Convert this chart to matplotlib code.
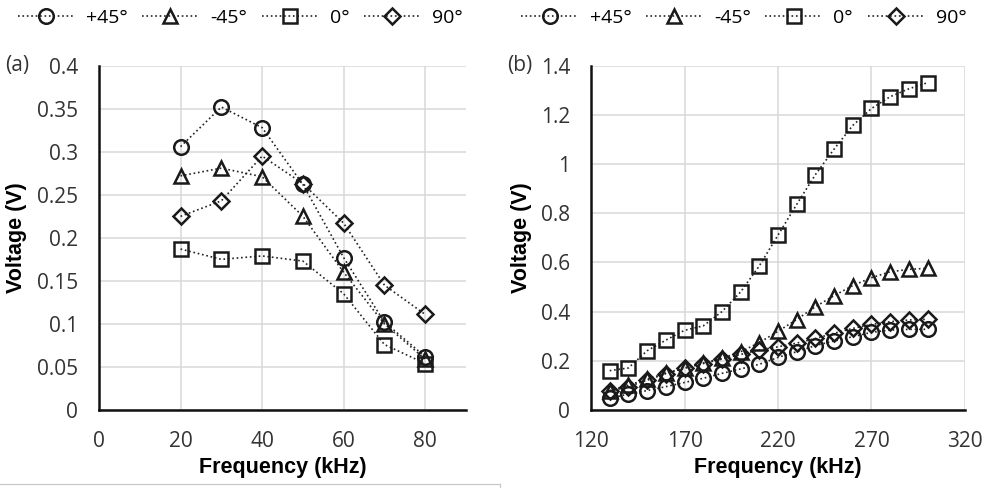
import matplotlib
matplotlib.use('Agg')
import matplotlib.pyplot as plt
from matplotlib.lines import Line2D

# (a) low frequency sweep
freq_a = [20, 30, 40, 50, 60, 70, 80]
p45_a = [0.306, 0.352, 0.328, 0.262, 0.177, 0.102, 0.062]
m45_a = [0.272, 0.281, 0.271, 0.225, 0.160, 0.100, 0.059]
deg0_a = [0.187, 0.175, 0.179, 0.173, 0.135, 0.076, 0.054]
deg90_a = [0.225, 0.243, 0.295, 0.263, 0.217, 0.145, 0.111]

# (b) high frequency sweep
freq_b = [130, 140, 150, 160, 170, 180, 190, 200, 210,
          220, 230, 240, 250, 260, 270, 280, 290, 300]
p45_b = [0.047, 0.065, 0.079, 0.095, 0.112, 0.129, 0.149, 0.167, 0.186,
         0.214, 0.237, 0.262, 0.281, 0.298, 0.316, 0.325, 0.328, 0.328]
m45_b = [0.079, 0.101, 0.125, 0.150, 0.171, 0.191, 0.210, 0.237, 0.274,
         0.320, 0.368, 0.420, 0.465, 0.506, 0.538, 0.562, 0.572, 0.576]
deg0_b = [0.160, 0.171, 0.241, 0.284, 0.324, 0.342, 0.400, 0.480, 0.586,
          0.711, 0.836, 0.957, 1.061, 1.157, 1.226, 1.274, 1.306, 1.331]
deg90_b = [0.076, 0.095, 0.121, 0.148, 0.170, 0.189, 0.207, 0.226, 0.244,
           0.257, 0.272, 0.291, 0.312, 0.332, 0.348, 0.359, 0.366, 0.369]

labels = ['+45°', '-45°', '0°', '90°']
markers = [('o', 10.5), ('^', 10.5), ('s', 10.5), ('D', 7.8)]

TICK_FONT = 'Open Sans'
LABEL_FONT = 'Liberation Sans'

fig = plt.figure(figsize=(9.88, 4.88), dpi=100)
ax_a = fig.add_axes([0.1002, 0.1598, 0.3715, 0.7056])
ax_b = fig.add_axes([0.5982, 0.1598, 0.3785, 0.7056])


def draw(ax, x, series):
    handles = []
    for y, (m, ms), lab in zip(series, markers, labels):
        h, = ax.plot(x, y, linestyle=':', color='#222222', linewidth=1.2,
                     marker=m, markersize=ms, markerfacecolor='none',
                     markeredgecolor='#1a1a1a', markeredgewidth=1.8,
                     label=lab, zorder=3)
        handles.append(h)
    return handles


def style(ax, xlim, xticks, ylim, yticks, yfmt):
    ax.set_xlim(*xlim)
    ax.set_ylim(*ylim)
    ax.set_xticks(xticks)
    ax.set_yticks(yticks)
    ax.set_yticklabels([yfmt(v) for v in yticks], fontfamily=TICK_FONT, fontsize=15, color='#333333')
    ax.set_xticklabels([str(v) for v in xticks], fontfamily=TICK_FONT, fontsize=15, color='#333333')
    ax.tick_params(length=0)
    ax.tick_params(axis='y', pad=15)
    ax.tick_params(axis='x', pad=15)
    ax.grid(True, color='#d9d9d9', linewidth=1.1, zorder=0)
    ax.set_axisbelow(True)
    for s in ['top', 'right']:
        ax.spines[s].set_visible(False)
    for s in ['left', 'bottom']:
        ax.spines[s].set_linewidth(1.8)
        ax.spines[s].set_color('#111111')
    ax.set_xlabel('Frequency (kHz)', fontfamily=LABEL_FONT, fontweight='bold', fontsize=15.5)
    ax.set_ylabel('Voltage (V)', fontfamily=LABEL_FONT, fontweight='bold', fontsize=15.5)
    ax.xaxis.set_label_coords(0.5, -0.135)


def fmt(v):
    s = f'{v:.2f}'.rstrip('0').rstrip('.')
    return s


h_a = draw(ax_a, freq_a, [p45_a, m45_a, deg0_a, deg90_a])
style(ax_a, (0, 90), [0, 20, 40, 60, 80], (0, 0.4),
      [0, 0.05, 0.1, 0.15, 0.2, 0.25, 0.3, 0.35, 0.4], fmt)
ax_a.yaxis.set_label_coords(-0.196, 0.5)

h_b = draw(ax_b, freq_b, [p45_b, m45_b, deg0_b, deg90_b])
style(ax_b, (120, 320), [120, 170, 220, 270, 320], (0, 1.4),
      [0, 0.2, 0.4, 0.6, 0.8, 1.0, 1.2, 1.4], fmt)
ax_b.yaxis.set_label_coords(-0.158, 0.5)

for handles, cx in [(h_a, 0.243), (h_b, 0.753)]:
    fig.legend(handles=handles, labels=labels, loc='center', bbox_to_anchor=(cx, 0.963),
               ncol=4, frameon=False, handlelength=2.9, handletextpad=0.6,
               columnspacing=0.75, borderpad=0.2, prop={'family': TICK_FONT, 'size': 14})

fig.text(5 / 988, 1 - 66 / 488, '(a)', fontfamily=TICK_FONT, fontsize=15,
         color='#333333', va='center', ha='left')
fig.text(507 / 988, 1 - 66 / 488, '(b)', fontfamily=TICK_FONT, fontsize=15,
         color='#333333', va='center', ha='left')

# thin frame fragment at the bottom left
fig.add_artist(Line2D([0, 500 / 988], [1 - 484 / 488, 1 - 484 / 488],
                      color='#c8c8c8', linewidth=0.9, transform=fig.transFigure))
fig.add_artist(Line2D([500 / 988, 500 / 988], [1 - 484 / 488, 0],
                      color='#c8c8c8', linewidth=0.9, transform=fig.transFigure))

fig.savefig('out.png', dpi=100)
